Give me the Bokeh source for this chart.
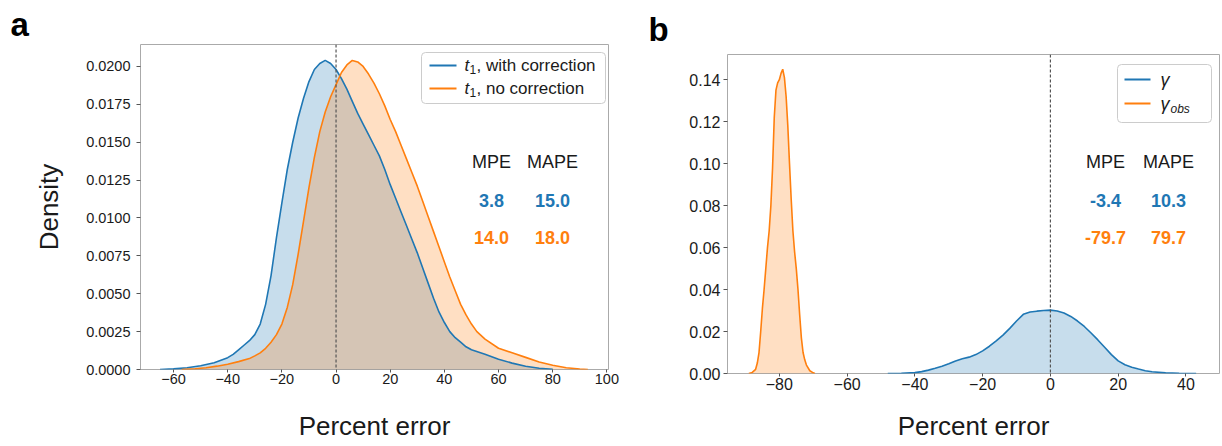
from bokeh.plotting import figure
from bokeh.layouts import row
from bokeh.models import Range1d, FixedTicker, Span, Label, BoxAnnotation, Arrow, NumeralTickFormatter
from bokeh.embed import file_html
from bokeh.resources import INLINE

# ---------------- data ----------------
# panel a: t1 with correction (blue)
a_blue_x = [-65, -60, -55, -50, -45, -40, -38, -36, -34, -32, -30, -28, -26, -24, -22, -20, -18, -16, -14, -12,
            -10, -8, -6, -4, -2, 0, 2, 4, 6, 8, 10, 12, 14, 16, 18, 20, 22, 24, 26, 28, 30, 32, 34, 36, 38, 40,
            42, 44, 46, 48, 50, 55, 60, 65, 70, 75, 80]
a_blue_y = [0.0, 0.00004, 0.00012, 0.00025, 0.00045, 0.00078, 0.0010, 0.0013, 0.0016, 0.0019, 0.0023, 0.0030,
            0.0043, 0.0062, 0.0087, 0.0110, 0.0132, 0.0150, 0.0166, 0.0179, 0.0190, 0.0198, 0.0202, 0.0204,
            0.0202, 0.0198, 0.0192, 0.0185, 0.0177, 0.0169, 0.0162, 0.0155, 0.0148, 0.0141, 0.0132, 0.0122,
            0.0113, 0.0104, 0.0095, 0.0086, 0.0077, 0.0067, 0.0057, 0.0047, 0.0038, 0.0031, 0.0025, 0.0021,
            0.0018, 0.0015, 0.0013, 0.0010, 0.00068, 0.00042, 0.00022, 0.00008, 0.00001]
# panel a: t1 no correction (orange)
a_orange_x = [-57, -52, -48, -44, -40, -36, -32, -30, -28, -26, -24, -22, -20, -18, -16, -14, -12, -10, -8, -6,
              -4, -2, 0, 2, 4, 6, 8, 10, 12, 14, 16, 18, 20, 22, 24, 26, 28, 30, 32, 34, 36, 38, 40, 42, 44, 46,
              48, 50, 52, 55, 60, 65, 70, 75, 80, 85, 90, 93]
a_orange_y = [0.0, 0.00005, 0.00012, 0.00022, 0.00035, 0.00052, 0.00072, 0.0009, 0.0011, 0.0014, 0.0018, 0.0023,
              0.0030, 0.0041, 0.0056, 0.0076, 0.0098, 0.0120, 0.0140, 0.0157, 0.0170, 0.0180, 0.0188, 0.0196,
              0.0201, 0.0204, 0.0203, 0.0200, 0.0195, 0.0189, 0.0182, 0.0174, 0.0165, 0.0157, 0.0148, 0.0139,
              0.0130, 0.0121, 0.0111, 0.0101, 0.0091, 0.0081, 0.0071, 0.0061, 0.0052, 0.0043, 0.0036, 0.0030,
              0.0025, 0.0020, 0.0014, 0.0011, 0.0008, 0.0005, 0.00028, 0.00012, 0.00003, 0.0]
# panel b: gamma (blue)
b_blue_x = [-48, -44, -40, -38, -36, -34, -32, -30, -28, -26, -24, -22, -20, -18, -16, -14, -12, -10, -8, -6,
            -4, -2, 0, 2, 4, 6, 8, 10, 12, 14, 16, 18, 20, 22, 24, 26, 28, 30, 34, 38, 43]
b_blue_y = [0.0, 0.0001, 0.0004, 0.0009, 0.0016, 0.0025, 0.0035, 0.0047, 0.0060, 0.0070, 0.0078, 0.0090, 0.0108,
            0.0130, 0.0155, 0.0183, 0.0215, 0.0250, 0.0282, 0.0293, 0.0297, 0.0300, 0.0302, 0.0298, 0.0288,
            0.0272, 0.0250, 0.0224, 0.0193, 0.0160, 0.0125, 0.0090, 0.0060, 0.0042, 0.0030, 0.0021, 0.0013,
            0.0008, 0.0003, 0.0001, 0.0]
# panel b: gamma_obs (orange)
b_orange_x = [-89, -88, -87, -86.5, -86, -85.5, -85, -84.5, -84, -83.5, -83, -82.5, -82, -81.5, -81, -80.5, -80,
              -79.5, -79, -78.5, -78, -77.5, -77, -76.5, -76, -75.5, -75, -74.5, -74, -73.5, -73, -72.5, -72,
              -71, -70, -69.5]
b_orange_y = [0.0, 0.0005, 0.002, 0.005, 0.010, 0.020, 0.031, 0.040, 0.050, 0.060, 0.068, 0.080, 0.098, 0.122,
              0.135, 0.1385, 0.140, 0.143, 0.145, 0.141, 0.132, 0.118, 0.100, 0.083, 0.068, 0.058, 0.050, 0.040,
              0.028, 0.017, 0.010, 0.0065, 0.004, 0.0013, 0.0003, 0.0]

a_xticks = [-60, -40, -20, 0, 20, 40, 60, 80, 100]
a_yticks = [0.0, 0.0025, 0.005, 0.0075, 0.01, 0.0125, 0.015, 0.0175, 0.02]
b_xticks = [-80, -60, -40, -20, 0, 20, 40]
b_yticks = [0.0, 0.02, 0.04, 0.06, 0.08, 0.10, 0.12, 0.14]

panel_titles = ["a", "b"]
a_labels = ["t", "t"]
a_suffix = [", with correction", ", no correction"]
b_labels = ["\u03b3", "\u03b3"]
b_sub = ["", "obs"]
stat_headers = ["MPE", "MAPE"]
a_stats = [["3.8", "15.0"], ["14.0", "18.0"]]
b_stats = [["-3.4", "10.3"], ["-79.7", "79.7"]]

BLUE = "#1f77b4"
ORANGE = "#ff7f0e"
FONT = "Liberation Sans"
TXT = "#1a1a1a"
FRAME = "#aaaaaa"
H = 446


def base_fig(width, xr, yr, mb_left, mb_right, mb_top, mb_bottom, xticks, yticks, yfmt, tick_size, ystand,
             title, title_offset, title_standoff):
    p = figure(width=width, height=H, x_range=Range1d(*xr), y_range=Range1d(*yr),
               output_backend="svg", toolbar_location=None, frame_align=False,
               min_border_left=mb_left, min_border_right=mb_right,
               min_border_top=mb_top, min_border_bottom=mb_bottom)
    p.title.text = title
    p.title.align = "left"
    p.title.offset = title_offset
    p.title.standoff = title_standoff
    p.title.text_font = FONT
    p.title.text_font_size = "33px"
    p.title.text_font_style = "bold"
    p.title.text_color = "#000000"
    p.grid.visible = False
    p.outline_line_color = FRAME
    p.outline_line_width = 1
    p.xaxis.ticker = FixedTicker(ticks=xticks)
    p.xaxis.major_label_overrides = {t: str(t).replace("-", "\u2212") for t in xticks}
    p.yaxis.ticker = FixedTicker(ticks=yticks)
    p.yaxis.formatter = NumeralTickFormatter(format=yfmt)
    for ax in p.axis:
        ax.axis_line_color = None
        ax.major_tick_line_color = "#555555"
        ax.minor_tick_line_color = None
        ax.major_tick_in = 0
        ax.major_label_text_font = FONT
        ax.major_label_text_font_size = tick_size
        ax.major_label_text_color = TXT
        ax.axis_label_text_font = FONT
        ax.axis_label_text_font_size = "26px"
        ax.axis_label_text_font_style = "normal"
        ax.axis_label_text_color = TXT
    p.xaxis.major_tick_out = 3
    p.xaxis.major_label_standoff = 1
    p.yaxis.major_tick_out = 4
    p.yaxis.major_label_standoff = ystand
    p.add_layout(Span(location=0, dimension="height", line_color="#555555",
                      line_dash="3 2", line_width=1.2))
    return p


def draw(p, xs, ys, color):
    p.varea(x=xs, y1=[0] * len(xs), y2=ys, fill_color=color, fill_alpha=0.25)


def lab(p, x, y, text, size, color=TXT, style="normal", align="center", baseline="middle"):
    p.add_layout(Label(x=x, y=y, x_units="screen", y_units="screen", text=text,
                       text_font=FONT, text_font_size=size, text_color=color,
                       text_font_style=style, text_align=align, text_baseline=baseline))


def legline(p, x0, x1, y, color):
    p.add_layout(Arrow(end=None, x_start=x0, y_start=y, x_end=x1, y_end=y,
                       start_units="screen", end_units="screen",
                       line_color=color, line_width=2))


def legbox(p, l, r, t, b):
    p.add_layout(BoxAnnotation(left=l, right=r, top=t, bottom=b,
                               left_units="screen", right_units="screen",
                               top_units="screen", bottom_units="screen",
                               fill_color="white", fill_alpha=0.8,
                               line_color="#cccccc", line_width=1, line_alpha=1.0,
                               border_radius=4))


# ---------------- panel a ----------------
# frame: x 140..608, y 44..369
pa = base_fig(640, (-72.2, 100.6), (0, 0.02145), 140, 32, 44, H - 369,
              a_xticks, a_yticks, "0.0000", "14.5px", 6, panel_titles[0], -130, 4)
pa.xaxis.axis_label = "Percent error"
pa.xaxis.axis_label_standoff = 24
pa.yaxis.axis_label = "Density"
pa.yaxis.axis_label_standoff = 19
draw(pa, a_blue_x, a_blue_y, BLUE)
draw(pa, a_orange_x, a_orange_y, ORANGE)
pa.line(a_blue_x, a_blue_y, line_color=BLUE, line_width=1.6)
pa.line(a_orange_x, a_orange_y, line_color=ORANGE, line_width=1.6)

legbox(pa, 281, 465, 317, 266)
for i, (col, yy) in enumerate([(BLUE, 304), (ORANGE, 281)]):
    legline(pa, 289, 316, yy, col)
    lab(pa, 324, yy, a_labels[i], "17px", style="italic", align="left")
    lab(pa, 329, yy - 4, "1", "12px", align="left")
    lab(pa, 336, yy, a_suffix[i], "17px", align="left")

for j, xx in enumerate([351, 412]):
    lab(pa, xx, 208, stat_headers[j], "18px")
    lab(pa, xx, 169, a_stats[0][j], "18px", color=BLUE, style="bold")
    lab(pa, xx, 132, a_stats[1][j], "18px", color=ORANGE, style="bold")

# ---------------- panel b ----------------
# frame: x 727..1219, y 54..373
pb = base_fig(580, (-95.3, 49.9), (0, 0.152), 87, 1, 54, H - 373,
              b_xticks, b_yticks, "0.00", "16px", 3, panel_titles[1], -79, 14)
pb.xaxis.axis_label = "Percent error"
pb.xaxis.axis_label_standoff = 18
draw(pb, b_blue_x, b_blue_y, BLUE)
draw(pb, b_orange_x, b_orange_y, ORANGE)
pb.line(b_blue_x, b_blue_y, line_color=BLUE, line_width=1.6)
pb.line(b_orange_x, b_orange_y, line_color=ORANGE, line_width=1.6)

legbox(pb, 390, 484, 309, 251)
for i, (col, yy) in enumerate([(BLUE, 294), (ORANGE, 270)]):
    legline(pb, 397, 423, yy, col)
    lab(pb, 433, yy, b_labels[i], "18px", style="italic", align="left")
    if b_sub[i]:
        lab(pb, 443, yy - 5, b_sub[i], "12px", style="italic", align="left")

for j, xx in enumerate([378, 441]):
    lab(pb, xx, 212, stat_headers[j], "18px")
    lab(pb, xx, 173, b_stats[0][j], "18px", color=BLUE, style="bold")
    lab(pb, xx, 136, b_stats[1][j], "18px", color=ORANGE, style="bold")

layout = row(pa, pb)
open("out.html", "w").write(file_html(layout, INLINE))
